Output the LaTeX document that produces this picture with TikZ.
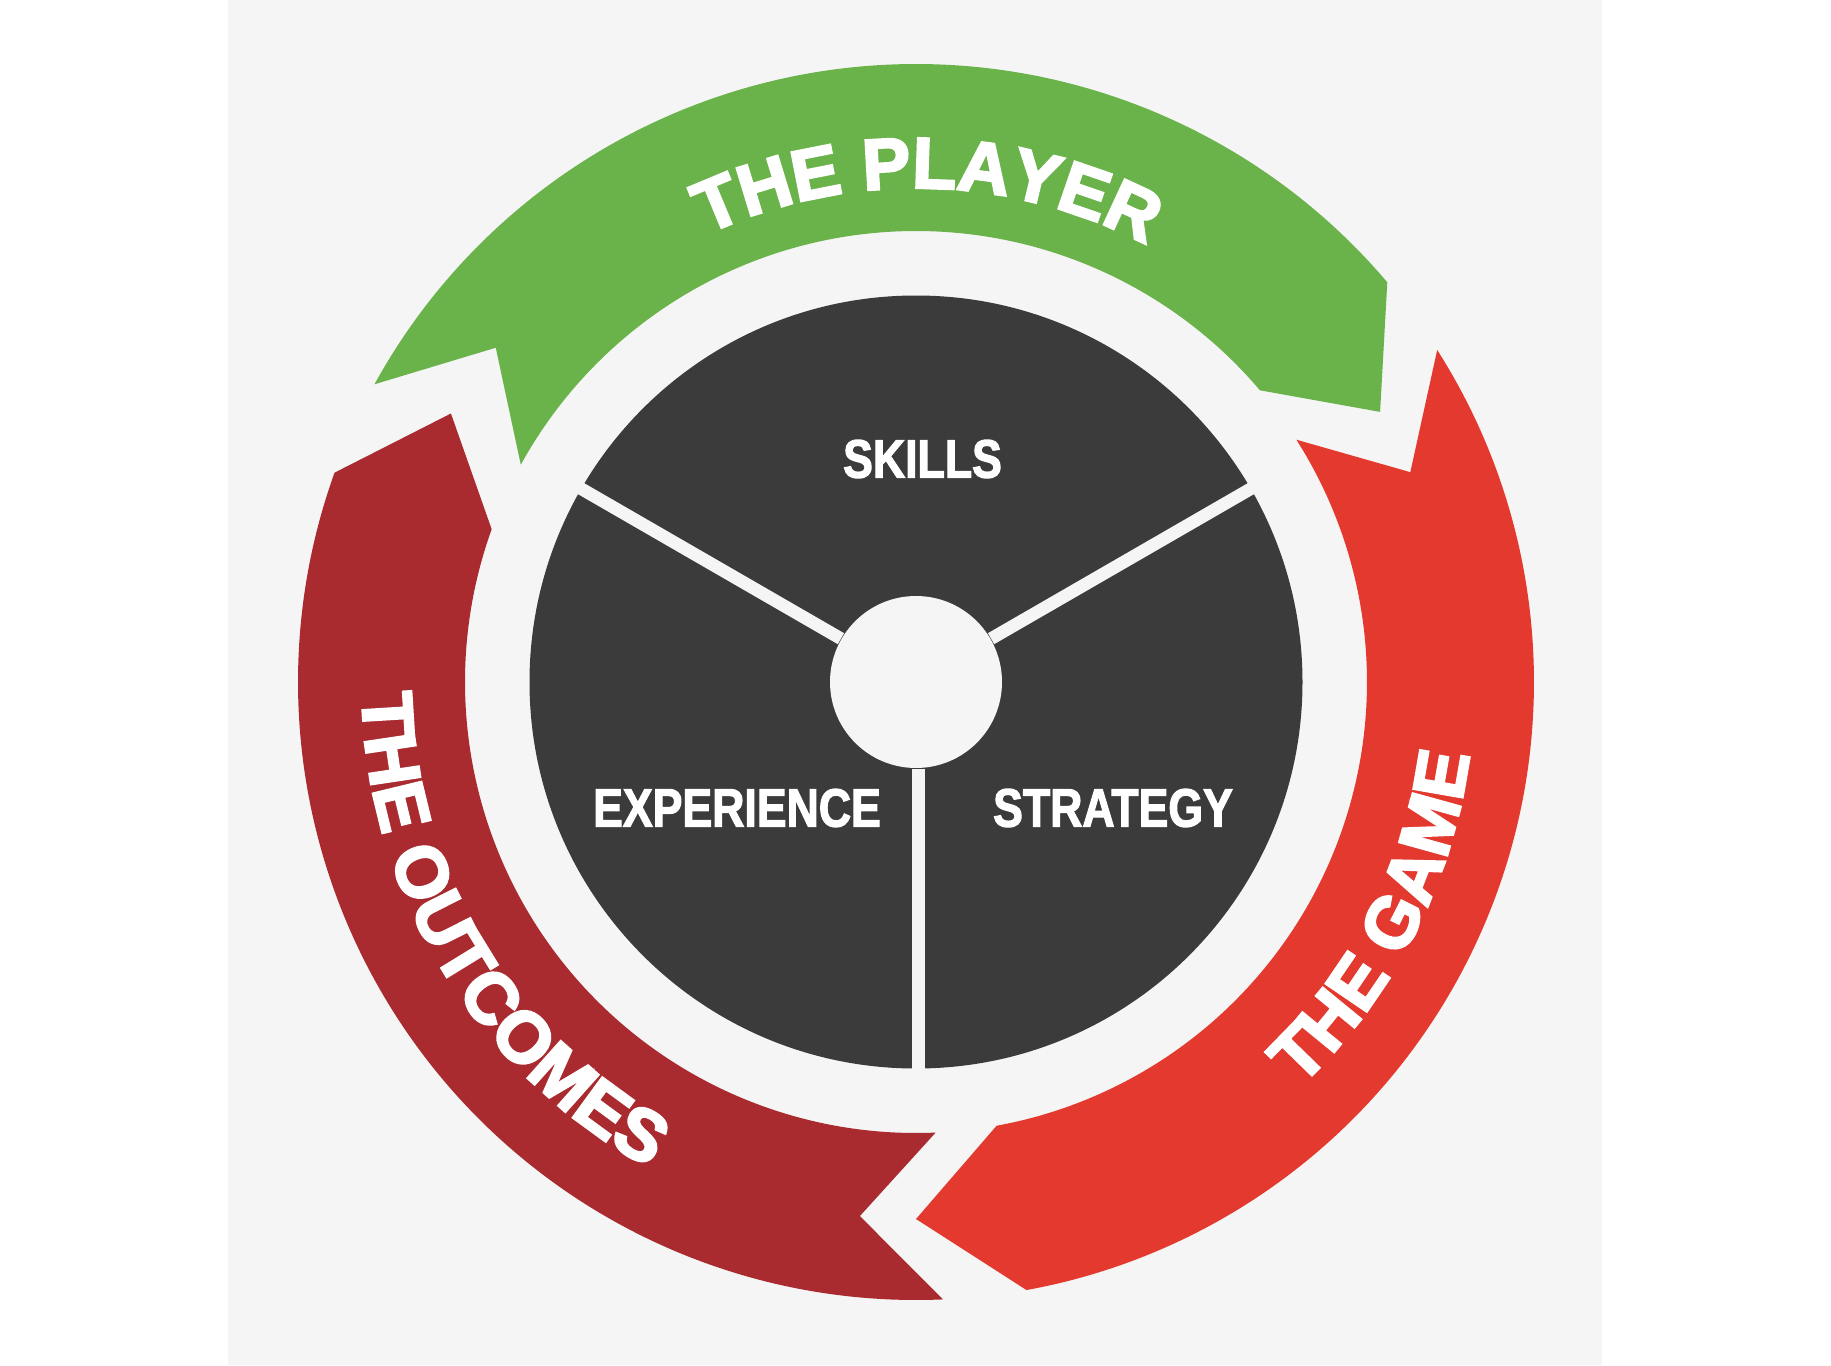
\documentclass[tikz,border=0pt]{standalone}
\usepackage{fontspec}
\usepackage{xcolor}
\usepackage{graphicx}
\setmainfont{Liberation Sans}
\newfontfamily\heavyfont{Liberation Sans Bold}[FakeBold=3.5]
\newfontfamily\sectorfont{Liberation Sans Bold}[FakeBold=2.5]
\usetikzlibrary{positioning}
\usetikzlibrary{decorations.text}

\definecolor{bggray}{HTML}{F5F5F5}
\definecolor{wheelgray}{HTML}{3C3B3C}
\definecolor{playergreen}{HTML}{6AB34A}
\definecolor{gamered}{HTML}{E3392E}
\definecolor{outcomered}{HTML}{A92B2F}

\newcommand{\arcfont}{\heavyfont\fontsize{20.5}{24}\selectfont}
\newcommand{\sectortext}[1]{\scalebox{0.83}[1]{#1}}

\begin{document}
\begin{tikzpicture}[
    spoke/.style={draw=bggray, line width=3.6pt, shorten >=-2pt},
    sector_label/.style={text=white, inner sep=0pt, font=\sectorfont\fontsize{15.3}{18}\selectfont},
    band_text/.style={decorate, decoration={text along path, text align=center, text color=white, text={|\arcfont|#1}}}
  ]
    \fill[white] (-9.16,-6.83) rectangle (9.15,6.82);
    \fill[bggray] (-6.88,-6.83) rectangle (6.86,6.82);
    \useasboundingbox (-9.16,-6.83) rectangle (9.15,6.82);

    % outer ring of arrows
    \fill[playergreen] (151.2:6.18) arc[start angle=151.2, end angle=40.3, radius=6.18] -- (30.2:5.37)
        -- (40.3:4.51) arc[start angle=40.3, end angle=151.2, radius=4.51] -- (141.5:5.37) -- cycle;
    \fill[gamered] (32.5:6.18) arc[start angle=32.5, end angle=-79.7, radius=6.18] -- (-90:5.37)
        -- (-79.7:4.51) arc[start angle=-79.7, end angle=32.5, radius=4.51] -- (23:5.37) -- cycle;
    \fill[outcomered] (-87.5:6.18) arc[start angle=-87.5, end angle=-199.8, radius=6.18] -- (-210:5.37)
        -- (-199.8:4.51) arc[start angle=-199.8, end angle=-87.5, radius=4.51] -- (-96:5.37) -- cycle;

    \path[band_text={THE PLAYER}] (178.65:4.94) arc[start angle=178.65, end angle=-1.35, radius=4.94];
    \path[band_text={THE GAME}] (-87:5.58) arc[start angle=-87, end angle=33, radius=5.58];
    \path[band_text={THE OUTCOMES}] (151.2:5.54) arc[start angle=151.2, end angle=271.2, radius=5.54];

    % wheel
    \node (wheel) [circle, fill=wheelgray, minimum size=7.73cm, inner sep=0pt] at (0,0) {};
    \node (hub) [circle, fill=bggray, minimum size=1.72cm, inner sep=0pt] at (0,0) {};

    \draw[spoke] (hub) -- (wheel.30);
    \draw[spoke] (hub) -- (wheel.150);
    \draw[spoke] ([xshift=0.25mm]hub.south) -- ([xshift=0.25mm]wheel.south);

    \node (skills) [sector_label] at (0.065,2.23) {\sectortext{SKILLS}};
    \node (experience) [sector_label] at (-1.79,-1.26) {\sectortext{EXPERIENCE}};
    \node (strategy) [sector_label] at (1.97,-1.26) {\sectortext{STRATEGY}};

\end{tikzpicture}
\end{document}
